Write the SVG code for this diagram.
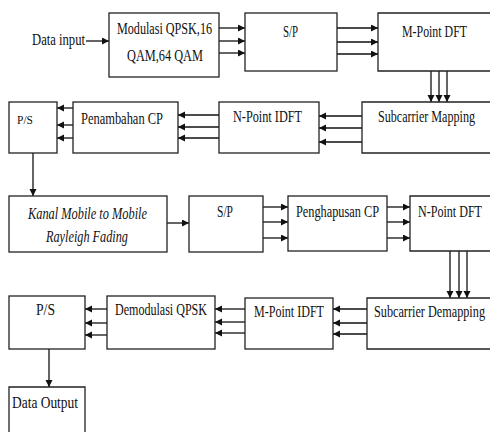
<svg xmlns="http://www.w3.org/2000/svg" width="490" height="432" viewBox="0 0 490 432">
<style>
.box{fill:#fff;stroke:#222;stroke-width:1.3}
.t{font-family:"Liberation Serif","Times New Roman",serif;font-size:16px;fill:#111}
.i{font-style:italic}
.c{stroke:#111;stroke-width:1.3;fill:none;marker-end:url(#ah)}
</style>
<defs>
<marker id="ah" markerUnits="userSpaceOnUse" markerWidth="8" markerHeight="8" refX="7" refY="3.5" orient="auto">
<path d="M0,0 L7,3.5 L0,7 z" fill="#111"/>
</marker>
</defs>
<rect width="490" height="432" fill="#fff"/>

<g id="connectors">
<line class="c" x1="86" y1="41" x2="109" y2="41"/>
<line class="c" x1="219" y1="28" x2="245" y2="28"/>
<line class="c" x1="219" y1="41" x2="245" y2="41"/>
<line class="c" x1="219" y1="53" x2="245" y2="53"/>
<line class="c" x1="337" y1="28" x2="378" y2="28"/>
<line class="c" x1="337" y1="42" x2="378" y2="42"/>
<line class="c" x1="337" y1="54" x2="378" y2="54"/>
<line class="c" x1="431" y1="71" x2="431" y2="102"/>
<line class="c" x1="439" y1="71" x2="439" y2="102"/>
<line class="c" x1="447" y1="71" x2="447" y2="102"/>
<line class="c" x1="362" y1="116" x2="319" y2="116"/>
<line class="c" x1="362" y1="128" x2="319" y2="128"/>
<line class="c" x1="362" y1="142" x2="319" y2="142"/>
<line class="c" x1="219" y1="115" x2="178" y2="115"/>
<line class="c" x1="219" y1="127" x2="178" y2="127"/>
<line class="c" x1="219" y1="138" x2="178" y2="138"/>
<line class="c" x1="73" y1="108" x2="57" y2="108"/>
<line class="c" x1="73" y1="125" x2="57" y2="125"/>
<line class="c" x1="73" y1="138" x2="57" y2="138"/>
<line class="c" x1="33" y1="153" x2="33" y2="196"/>
<line class="c" x1="167" y1="223" x2="189" y2="223"/>
<line class="c" x1="263" y1="207" x2="288" y2="207"/>
<line class="c" x1="263" y1="222" x2="288" y2="222"/>
<line class="c" x1="263" y1="238" x2="288" y2="238"/>
<line class="c" x1="387" y1="207" x2="410" y2="207"/>
<line class="c" x1="387" y1="222" x2="410" y2="222"/>
<line class="c" x1="387" y1="238" x2="410" y2="238"/>
<line class="c" x1="450" y1="251" x2="450" y2="298"/>
<line class="c" x1="459" y1="251" x2="459" y2="298"/>
<line class="c" x1="467" y1="251" x2="467" y2="298"/>
<line class="c" x1="367" y1="309" x2="333" y2="309"/>
<line class="c" x1="367" y1="323" x2="333" y2="323"/>
<line class="c" x1="367" y1="334" x2="333" y2="334"/>
<line class="c" x1="245" y1="309" x2="215" y2="309"/>
<line class="c" x1="245" y1="322" x2="215" y2="322"/>
<line class="c" x1="245" y1="333" x2="215" y2="333"/>
<line class="c" x1="107" y1="309" x2="85" y2="309"/>
<line class="c" x1="107" y1="323" x2="85" y2="323"/>
<line class="c" x1="107" y1="335" x2="85" y2="335"/>
<line class="c" x1="49" y1="349" x2="49" y2="387"/>
</g>

<g id="data-input">
<text class="t" transform="translate(32,45) scale(0.75,1)" textLength="70.7" lengthAdjust="spacingAndGlyphs">Data input</text>
</g>
<g id="modulasi">
<rect class="box" x="109" y="13" width="110" height="64"/>
<text class="t" transform="translate(117,34) scale(0.75,1)" textLength="126.7" lengthAdjust="spacingAndGlyphs">Modulasi QPSK,16</text>
<text class="t" transform="translate(127,61) scale(0.75,1)" textLength="101.3" lengthAdjust="spacingAndGlyphs">QAM,64 QAM</text>
</g>
<g id="sp1">
<rect class="box" x="245" y="13" width="92" height="58"/>
<text class="t" transform="translate(283,37) scale(0.75,1)" textLength="20" lengthAdjust="spacingAndGlyphs">S/P</text>
</g>
<g id="mpoint-dft">
<path class="box" d="M490,13 H378 V71 H490"/>
<text class="t" transform="translate(402,37) scale(0.75,1)" textLength="86.7" lengthAdjust="spacingAndGlyphs">M-Point DFT</text>
</g>
<g id="subcarrier-mapping">
<path class="box" d="M490,102 H362 V153 H490"/>
<text class="t" transform="translate(378,122) scale(0.75,1)" textLength="129.3" lengthAdjust="spacingAndGlyphs">Subcarrier Mapping</text>
</g>
<g id="npoint-idft">
<rect class="box" x="219" y="102" width="100" height="51"/>
<text class="t" transform="translate(233,122) scale(0.75,1)" textLength="92" lengthAdjust="spacingAndGlyphs">N-Point IDFT</text>
</g>
<g id="penambahan-cp">
<rect class="box" x="73" y="102" width="105" height="51"/>
<text class="t" transform="translate(81,124) scale(0.75,1)" textLength="109.3" lengthAdjust="spacingAndGlyphs">Penambahan CP</text>
</g>
<g id="ps1">
<rect class="box" x="9" y="102" width="48" height="51"/>
<text class="t" transform="translate(17,124) scale(0.75,1)" style="font-size:13px" textLength="21.3" lengthAdjust="spacingAndGlyphs">P/S</text>
</g>
<g id="kanal">
<rect class="box" x="9" y="196" width="158" height="56"/>
<text class="t i" transform="translate(28,219) scale(0.75,1)" textLength="158.7" lengthAdjust="spacingAndGlyphs">Kanal Mobile to Mobile</text>
<text class="t i" transform="translate(46,242) scale(0.75,1)" textLength="109.3" lengthAdjust="spacingAndGlyphs">Rayleigh Fading</text>
</g>
<g id="sp2">
<rect class="box" x="189" y="196" width="74" height="56"/>
<text class="t" transform="translate(217,217) scale(0.75,1)" textLength="21.3" lengthAdjust="spacingAndGlyphs">S/P</text>
</g>
<g id="penghapusan-cp">
<rect class="box" x="288" y="196" width="99" height="55"/>
<text class="t" transform="translate(296,217) scale(0.75,1)" textLength="110.7" lengthAdjust="spacingAndGlyphs">Penghapusan CP</text>
</g>
<g id="npoint-dft">
<path class="box" d="M490,196 H410 V251 H490"/>
<text class="t" transform="translate(418,217) scale(0.75,1)" textLength="85.3" lengthAdjust="spacingAndGlyphs">N-Point DFT</text>
</g>
<g id="subcarrier-demapping">
<path class="box" d="M490,298 H367 V349 H490"/>
<text class="t" transform="translate(374,317) scale(0.75,1)" textLength="148" lengthAdjust="spacingAndGlyphs">Subcarrier Demapping</text>
</g>
<g id="mpoint-idft">
<rect class="box" x="245" y="298" width="88" height="51"/>
<text class="t" transform="translate(254,317) scale(0.75,1)" textLength="93.3" lengthAdjust="spacingAndGlyphs">M-Point IDFT</text>
</g>
<g id="demodulasi">
<rect class="box" x="107" y="296" width="108" height="53"/>
<text class="t" transform="translate(115,315) scale(0.75,1)" textLength="122.7" lengthAdjust="spacingAndGlyphs">Demodulasi QPSK</text>
</g>
<g id="ps2">
<rect class="box" x="9" y="296" width="76" height="53"/>
<text class="t" transform="translate(36,315) scale(0.75,1)" textLength="25.3" lengthAdjust="spacingAndGlyphs">P/S</text>
</g>
<g id="data-output">
<path class="box" d="M9,432 V387 H85 V432"/>
<text class="t" transform="translate(12,408) scale(0.75,1)" textLength="88" lengthAdjust="spacingAndGlyphs">Data Output</text>
</g>
</svg>
